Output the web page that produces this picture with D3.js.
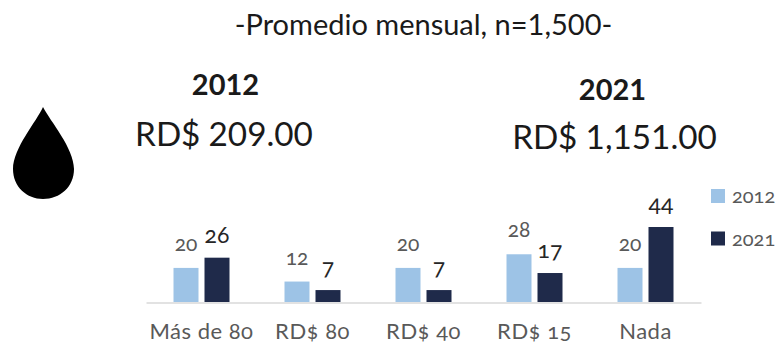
<!DOCTYPE html>
<html>
<head>
<meta charset="utf-8">
<script src="https://cdn.jsdelivr.net/npm/d3@7"></script>
<style>
  html, body { margin: 0; padding: 0; background: #fff; }
  svg { display: block; }
  text { font-family: Lato, "Open Sans", sans-serif; font-feature-settings: "onum" 1; }
</style>
</head>
<body>
<div id="chart"></div>
<script>
var categories = ["Más de 80", "RD$ 80", "RD$ 40", "RD$ 15", "Nada"];
var series2012 = [20, 12, 20, 28, 20];
var series2021 = [26, 7, 7, 17, 44];
var years = ["2012", "2021"];
var colors = ["#9dc3e6", "#1f2a4a"];

var svg = d3.select("#chart").append("svg")
  .attr("width", 777)
  .attr("height", 346);

// headings
function heading(x, y, size, weight, str) {
  svg.append("text")
    .attr("x", x)
    .attr("y", y)
    .attr("text-anchor", "middle")
    .attr("font-size", size)
    .attr("font-weight", weight)
    .attr("fill", "#1a1a1a")
    .style("font-feature-settings", "'lnum' 1")
    .text(str);
}
heading(423.5, 35, 29, 400, "-Promedio mensual, n=1,500-");
heading(225.5, 95, 29, 700, "2012");
heading(612.5, 100, 29, 700, "2021");
heading(224, 146, 33.3, 400, "RD$ 209.00");
heading(614.5, 149, 33.3, 400, "RD$ 1,151.00");

// drop icon
svg.append("path")
  .attr("d", "M43,107 C37,121 13,148 13,169 C13,187 27,199 43,199 C60,199 74,187 74,169 C74,148 50,121 43,107 Z")
  .attr("fill", "#000");

// bars
var x = d3.scaleBand()
  .domain(categories)
  .range([146, 701])
  .padding(0);

var y = d3.scaleLinear()
  .domain([0, 44])
  .range([302, 227]);

var barWidth = 25;
var barGap = 6;

var groups = svg.selectAll(".group")
  .data(categories)
  .enter().append("g")
  .attr("class", "group")
  .attr("transform", function(d) {
    return "translate(" + (x(d) + x.bandwidth() / 2) + ",0)";
  });

groups.append("rect")
  .attr("x", -barWidth - barGap / 2)
  .attr("y", function(d, i) { return y(series2012[i]); })
  .attr("width", barWidth)
  .attr("height", function(d, i) { return y(0) - y(series2012[i]); })
  .attr("fill", colors[0]);

groups.append("rect")
  .attr("x", barGap / 2)
  .attr("y", function(d, i) { return y(series2021[i]); })
  .attr("width", barWidth)
  .attr("height", function(d, i) { return y(0) - y(series2021[i]); })
  .attr("fill", colors[1]);

groups.append("text")
  .attr("x", -barWidth / 2 - barGap / 2)
  .attr("y", function(d, i) { return y(series2012[i]) - 17; })
  .attr("text-anchor", "middle")
  .attr("font-size", 21)
  .attr("fill", "#595959")
  .text(function(d, i) { return series2012[i]; });

groups.append("text")
  .attr("x", barWidth / 2 + barGap / 2)
  .attr("y", function(d, i) { return y(series2021[i]) - 15; })
  .attr("text-anchor", "middle")
  .attr("font-size", 23)
  .attr("fill", "#262626")
  .text(function(d, i) { return series2021[i]; });

// axis
var axis = svg.append("g")
  .attr("transform", "translate(0," + (y(0) + 0.5) + ")")
  .call(d3.axisBottom(x).tickSize(0).tickPadding(21));

axis.select(".domain").attr("stroke", "#d9d9d9").attr("stroke-width", 1.5);
axis.selectAll("text")
  .attr("font-size", 22)
  .attr("letter-spacing", 0.5)
  .attr("fill", "#595959");

// legend
var legend = svg.selectAll(".legend")
  .data(years)
  .enter().append("g")
  .attr("class", "legend")
  .attr("transform", function(d, i) {
    return "translate(711," + (189 + i * 42.5) + ")";
  });

legend.append("rect")
  .attr("width", 14)
  .attr("height", 14)
  .attr("fill", function(d, i) { return colors[i]; });

legend.append("text")
  .attr("x", 21)
  .attr("y", 14)
  .attr("font-size", 20)
  .attr("fill", "#595959")
  .text(function(d) { return d; });
</script>
</body>
</html>
